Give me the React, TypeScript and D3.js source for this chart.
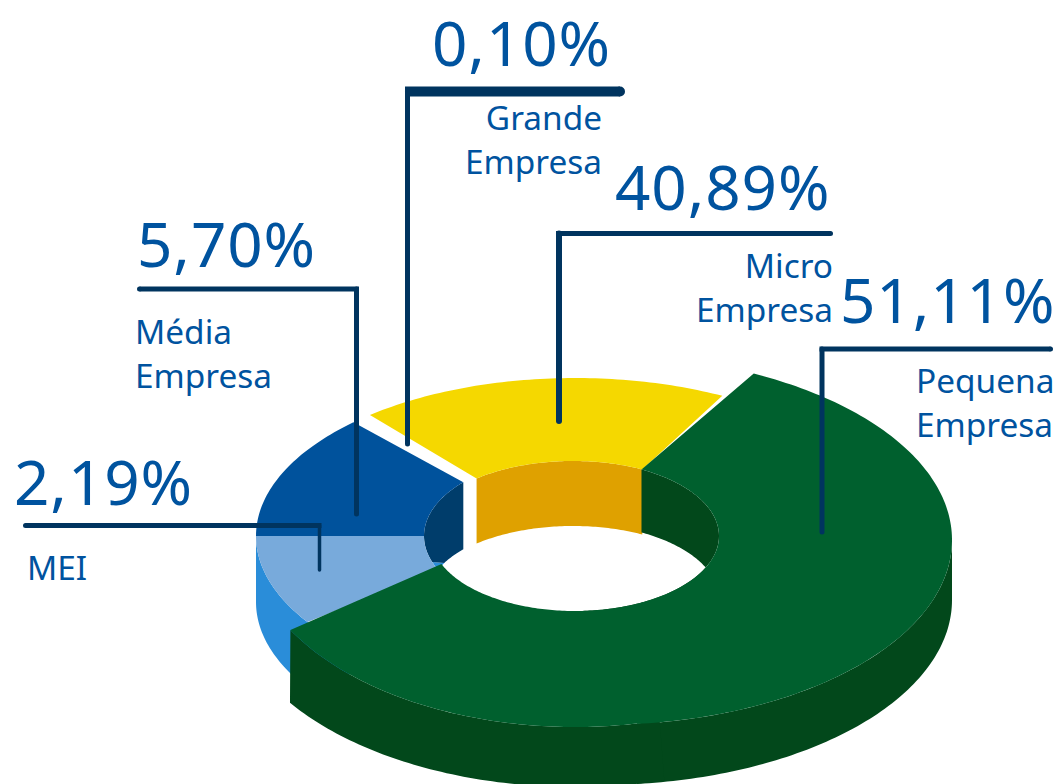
import React from "react";
import * as d3 from "d3";

// ---- values printed on the chart
const categories = ["Micro Empresa", "Pequena Empresa", "MEI", "Média Empresa", "Grande Empresa"];
const percentLabels = ["40,89%", "51,11%", "2,19%", "5,70%", "0,10%"];
const drawnSpans = [67.5, 220.5, 22, 42.5, 7.5];
const firstAngle = -40;

// ---- colours
const colors = {
  yellow: "#f5d800", amber: "#dfa100", green: "#00602e", greenDark: "#02481b",
  blue: "#00529c", blueLight: "#78aadb", blueBright: "#2a8dd9", navy: "#003d6b",
  text: "#00539f", line: "#00345f",
};

type Ell = { cx: number; cy: number; rx: number; ry: number };
const shift = (e: Ell, dy: number): Ell => ({ ...e, cy: e.cy + dy });

// ---- ring geometry
const outer: Ell = { cx: 575, cy: 536, rx: 319, ry: 158 };
const hole: Ell = { cx: 575, cy: 536, rx: 144, ry: 75 };
const holeYellow: Ell = { cx: 573, cy: 536, rx: 150, ry: 75 };
const holeBlue: Ell = { cx: 575, cy: 536, rx: 151, ry: 80 };
const greenRight: Ell = { cx: 600, cy: 540, rx: 352, ry: 185 };
const greenLeft: Ell = { cx: 575, cy: 536, rx: 327, ry: 191 };
const greenLeftBase: Ell = { cx: 575, cy: 594, rx: 345, ry: 193 };

const rad = d3.scaleLinear().domain([0, 180]).range([0, Math.PI]);
const pt = (e: Ell, a: number): [number, number] => [
  e.cx + e.rx * Math.sin(rad(a)),
  e.cy - e.ry * Math.cos(rad(a)),
];
const arc = (e: Ell, a0: number, a1: number): [number, number][] => {
  const n = Math.max(2, Math.ceil(Math.abs(a1 - a0)));
  return d3.range(n + 1).map((i) => pt(e, a0 + ((a1 - a0) * i) / n));
};
const lineGen = d3.line<[number, number]>().curve(d3.curveLinear);
const poly = (...parts: [number, number][][]) => lineGen(parts.flat()) + "Z";

const pieData = d3
  .pie<number>()
  .sort(null)
  .value((d) => d)
  .startAngle(rad(firstAngle))
  .endAngle(rad(firstAngle + 360))(drawnSpans);
const toDeg = d3.scaleLinear().domain([0, Math.PI]).range([0, 180]);
const spans = pieData.map((d) => [toDeg(d.startAngle), toDeg(d.endAngle)]);
const [micro, pequena, mei, media] = spans;

// ---- leaders and labels
const leaders = [
  { d: [[625, 91.5], [405, 91.5], [407.5, 444]], w: 5, top: 10 },
  { d: [[833, 233.5], [556, 233.5], [559, 421]], w: 6, top: 5 },
  { d: [[1053, 349], [819.5, 349], [822, 532]], w: 5, top: 5 },
  { d: [[137, 289], [359, 289], [356.5, 514]], w: 5, top: 5 },
  { d: [[23, 525.5], [321.5, 525.5], [319.5, 570]], w: 3.5, top: 5 },
];
const bigLabels = [
  { i: 4, x: 432, y: 66 },
  { i: 0, x: 615, y: 210 },
  { i: 1, x: 840, y: 323 },
  { i: 3, x: 137, y: 267 },
  { i: 2, x: 14, y: 505 },
];
const smallLabels = [
  { t: "Grande", x: 602, y: 130, a: "end" },
  { t: "Empresa", x: 602, y: 174, a: "end" },
  { t: "Micro", x: 833, y: 278, a: "end" },
  { t: "Empresa", x: 833, y: 322, a: "end" },
  { t: "Pequena", x: 916, y: 393, a: "start" },
  { t: "Empresa", x: 916, y: 437, a: "start" },
  { t: "Média", x: 135, y: 344, a: "start" },
  { t: "Empresa", x: 135, y: 388, a: "start" },
  { t: "MEI", x: 27, y: 580, a: "start" },
];

export default function App() {
  const wallB = 67;
  const greenEndOuter = pequena[1] - 7.5;
  return (
    <svg
      width={1058}
      height={784}
      style={{ position: "absolute", left: 0, top: 0, background: "#fff" }}
      aria-label={categories.join(", ")}
    >
      {/* MEI outer wall */}
      <path d={poly(arc(outer, 225, 270), arc(shift(outer, 66), 270, 225))} fill={colors.blueBright} />
      {/* small inner patch */}
      <path d={poly(arc(holeBlue, 251, 245), [pt(shift(holeBlue, wallB), 300)])} fill={colors.blueBright} />
      {/* Média inner wall */}
      <path
        d={poly(arc(holeBlue, media[1] - 0.2, 251), arc(shift(holeBlue, wallB), 300, media[1] - 0.2))}
        fill={colors.navy}
      />
      {/* MEI and Média tops */}
      <path d={poly(arc(outer, mei[0] - 11, mei[1]), arc(holeBlue, mei[1], mei[0] - 3))} fill={colors.blueLight} />
      <path d={poly(arc(outer, media[0], media[1] + 3.5), arc(holeBlue, media[1] - 0.2, media[0]))} fill={colors.blue} />

      {/* Micro wall and top */}
      <path d={poly(arc(holeYellow, micro[0], micro[1]), arc(shift(holeYellow, 65), micro[1], micro[0]))} fill={colors.amber} />
      <path d={poly(arc(outer, micro[0], micro[1]), arc(holeYellow, micro[1], micro[0]))} fill={colors.yellow} />

      {/* Pequena inner wall */}
      <path d={poly(arc(hole, pequena[0], 180), arc(shift(hole, 63), 180, pequena[0]))} fill={colors.greenDark} />
      {/* Pequena outer walls */}
      <path d={poly(arc(greenRight, 90, 174), arc(shift(greenRight, 60), 174, 90))} fill={colors.greenDark} />
      <path d={poly(arc(greenLeft, 165, greenEndOuter), arc(greenLeftBase, 235.7, 165))} fill={colors.greenDark} />
      {/* Pequena top */}
      <path
        d={poly(
          arc(greenRight, pequena[0] - 1.6, 174),
          arc(greenLeft, 169, greenEndOuter),
          arc(hole, pequena[1], pequena[0])
        )}
        fill={colors.green}
      />

      {/* leaders: square elbow, rounded free ends */}
      {leaders.map((l, i) => {
        const [end, elbow, foot] = l.d;
        const dir = Math.sign(end[0] - elbow[0]);
        return (
          <g key={i} fill="none" stroke={colors.line}>
            <path d={lineGen([[foot[0], elbow[1]], foot as [number, number]]) as string} strokeWidth={l.w} strokeLinecap="round" />
            <path d={lineGen([elbow as [number, number], [end[0] - (dir * l.top) / 2, end[1]]]) as string} strokeWidth={l.top} />
            <circle cx={end[0] - (dir * l.top) / 2} cy={end[1]} r={l.top / 2} fill={colors.line} stroke="none" />
          </g>
        );
      })}

      {/* labels */}
      <g fontFamily="'Noto Sans'" fill={colors.text}>
        {bigLabels.map((b) => (
          <text key={b.i} x={b.x} y={b.y} fontSize={62} letterSpacing={0.9} fontWeight={450}>
            {percentLabels[b.i]}
          </text>
        ))}
        {smallLabels.map((s, i) => (
          <text key={i} x={s.x} y={s.y} fontSize={33.4} textAnchor={s.a}>
            {s.t}
          </text>
        ))}
      </g>
    </svg>
  );
}
